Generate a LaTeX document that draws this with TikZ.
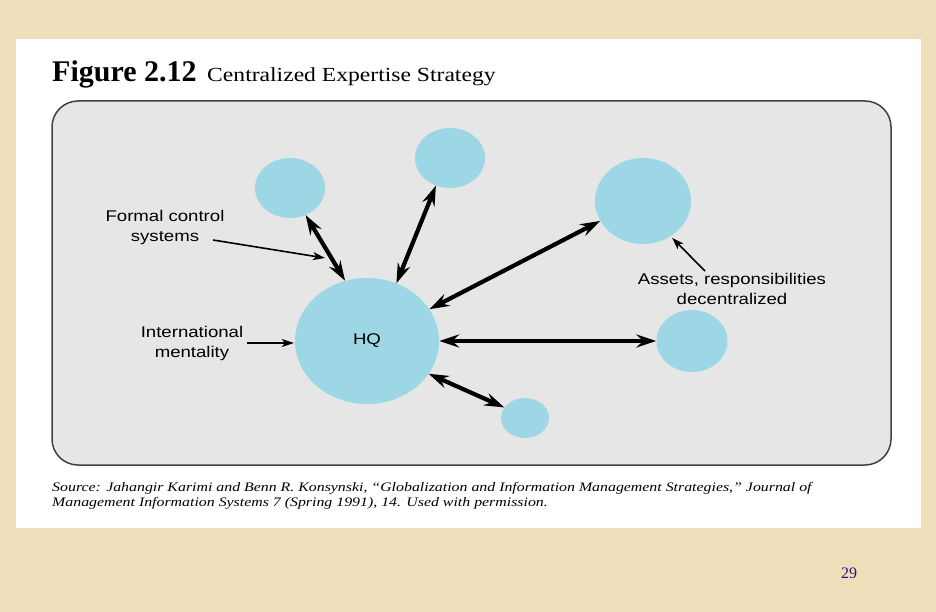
\documentclass[tikz,border=0pt]{standalone}
\usepackage{graphicx}
\usepackage{fontspec}
\setmainfont{Liberation Serif}
\newfontfamily\lsans{Liberation Sans}
\usetikzlibrary{arrows.meta,shapes.geometric}
\definecolor{parch}{RGB}{238,222,186}
\definecolor{panelgray}{RGB}{230,230,230}
\definecolor{bubble}{RGB}{157,215,230}
\definecolor{pnum}{RGB}{40,20,120}
\begin{document}
\begin{tikzpicture}[x=1pt,y=-1pt,
  bub/.style={ellipse, fill=bubble, draw=none, inner sep=0pt},
  lab/.style={font=\lsans\fontsize{15.5}{20}\selectfont, align=center, xscale=1.2, transform shape, inner sep=0pt},
  dlink/.style={line width=4.2pt, {Stealth[length=20pt,width=13pt,inset=7pt]}-{Stealth[length=20pt,width=13pt,inset=7pt]}},
  ptr/.style={line width=1.6pt, -{Stealth[length=12pt,width=8pt,inset=3pt]}},
  txt/.style={anchor=base west, inner sep=0pt}]
\useasboundingbox (0,0) rectangle (936,612);
\fill[parch] (0,0) rectangle (936,612);
\fill[white] (16,39) rectangle (921,528);
\draw[draw=black!75, line width=1.5pt, fill=panelgray, rounded corners=26pt] (52,101) rectangle (891,465);

% title
\node[txt, font=\fontsize{30}{36}\selectfont\bfseries] (fig) at (52,82) {Figure 2.12};
\node[txt, font=\fontsize{20}{24}\selectfont, xscale=1.18, transform shape] (ttl) at (207,82) {Centralized Expertise Strategy};

% bubbles
\node[bub, minimum width=144pt, minimum height=126pt, font=\lsans\fontsize{15.5}{18}\selectfont] (hq) at (367,341) {\scalebox{1.2}[1]{HQ}};
\node[bub, minimum width=70pt, minimum height=60pt] (c1) at (290,188) {};
\node[bub, minimum width=70pt, minimum height=60pt] (c2) at (450,158) {};
\node[bub, minimum width=96pt, minimum height=86pt] (c3) at (643,201) {};
\node[bub, minimum width=71pt, minimum height=62pt] (c4) at (692,341) {};
\node[bub, minimum width=48pt, minimum height=40pt] (c5) at (525,418) {};

% links
\draw[dlink] (hq.110) -- (c1.-60);
\draw[dlink] (hq.63) -- (c2.-117);
\draw[dlink] (hq.27) -- (c3.205);
\draw[dlink] (hq.0) -- (c4.180);
\draw[dlink] (hq.-28) -- (c5.153);

% labels
\node[lab] (fcs) at (165,227) {Formal control\\systems};
\node[lab] (im) at (192,343) {International\\mentality};
\node[lab] (as) at (732,289) {Assets, responsibilities\\decentralized};

\coordinate (fcsA) at (213,240);
\coordinate (fcsB) at (325,258);
\coordinate (asA) at (705,271);
\draw[ptr] (fcsA) -- (fcsB);
\draw[ptr, shorten <=4pt, shorten >=1pt] (im.east) -- (im.east -| hq.west);
\draw[ptr, shorten >=2pt] (asA) -- (c3.-52);

% source
\node[txt, font=\itshape\fontsize{13}{15}\selectfont, xscale=1.22, transform shape] (src1) at (52,491) {Source: Jahangir Karimi and Benn R. Konsynski, “Globalization and Information Management Strategies,” Journal of};
\node[txt, font=\itshape\fontsize{13}{15}\selectfont, xscale=1.22, transform shape] (src2) at (52,506) {Management Information Systems 7 (Spring 1991), 14. Used with permission.};

% page number
\node[txt, text=pnum, font=\fontsize{16}{18}\selectfont] (pg) at (841,578) {29};
\end{tikzpicture}
\end{document}
